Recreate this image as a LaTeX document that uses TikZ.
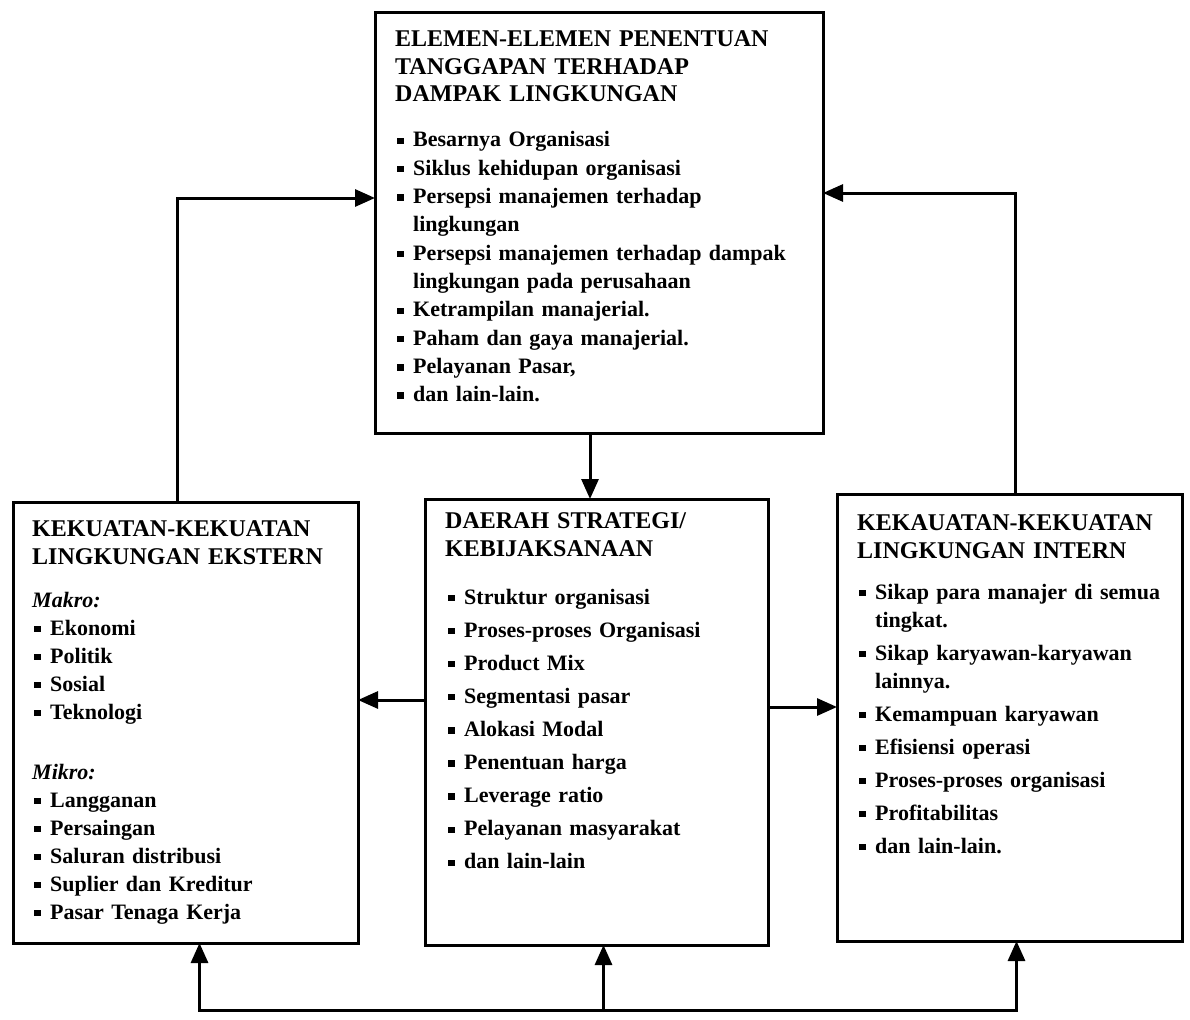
\documentclass[tikz,border=0pt]{standalone}
\usepackage{fontspec}
\setmainfont{Liberation Serif}
\usetikzlibrary{arrows.meta}

% small square bullet and hanging list item (one paragraph per item)
\newlength{\itmind}
\setlength{\itmind}{18pt}
\newcommand{\sqbul}{\raisebox{0.28ex}{\rule{0.29em}{0.29em}}}
\newcommand{\itm}[1]{\noindent\hangindent=\itmind\hangafter=1\makebox[\itmind][l]{\hspace{2pt}\sqbul}#1\par}

\begin{document}
\begin{tikzpicture}[x=1pt,y=-1pt,
  box/.style={draw, line width=3pt, anchor=north west, inner sep=0pt, outer sep=0pt},
  conn/.style={line width=3pt, -{Triangle[length=20pt,width=17pt]}},
  ttl/.style={anchor=base west, inner sep=0pt, align=left, text width=420pt,
    font=\fontsize{24}{28}\selectfont\bfseries},
  lst/.style={anchor=base west, inner sep=0pt, align=left, text width=330pt}
]
\fill[white] (0,0) rectangle (1190,1019);
\useasboundingbox (0,0) rectangle (1190,1019);

% frames
\node[box, minimum width=448pt, minimum height=420pt] (top) at (375,13) {};
\node[box, minimum width=345pt, minimum height=441pt] (ext) at (13,502) {};
\node[box, minimum width=343pt, minimum height=446pt] (mid) at (425,499) {};
\node[box, minimum width=345pt, minimum height=447pt] (int) at (837,494) {};

% top box text
\node[ttl, font=\fontsize{24}{27.5}\selectfont\bfseries] (topT) at (395,47) {ELEMEN-ELEMEN PENENTUAN\\TANGGAPAN TERHADAP\\DAMPAK LINGKUNGAN};
\node[lst, text width=420pt, font=\fontsize{22}{28.3}\selectfont\bfseries] (topL) at (395,147) {%
  \itm{Besarnya Organisasi}%
  \itm{Siklus kehidupan organisasi}%
  \itm{Persepsi manajemen terhadap\newline lingkungan}%
  \itm{Persepsi manajemen terhadap dampak\newline lingkungan pada perusahaan}%
  \itm{Ketrampilan manajerial.}%
  \itm{Paham dan gaya manajerial.}%
  \itm{Pelayanan Pasar,}%
  \itm{dan lain-lain.}};

% external forces
\node[ttl, text width=330pt] (extT) at (32,536) {KEKUATAN-KEKUATAN\\LINGKUNGAN EKSTERN};
\node[lst, font=\fontsize{22}{28}\selectfont\bfseries] (extL) at (32,607) {%
  \noindent\textit{Makro:}\par
  \itm{Ekonomi}%
  \itm{Politik}%
  \itm{Sosial}%
  \itm{Teknologi}%
  \vspace{32pt}\noindent\textit{Mikro:}\par
  \itm{Langganan}%
  \itm{Persaingan}%
  \itm{Saluran distribusi}%
  \itm{Suplier dan Kreditur}%
  \itm{Pasar Tenaga Kerja}};

% strategy / policy area
\node[ttl, text width=320pt] (midT) at (445,528) {DAERAH STRATEGI/\\KEBIJAKSANAAN};
\node[lst, font=\fontsize{22}{33.1}\selectfont\bfseries] (midL) at (446,604) {%
  \itm{Struktur organisasi}%
  \itm{Proses-proses Organisasi}%
  \itm{Product Mix}%
  \itm{Segmentasi pasar}%
  \itm{Alokasi Modal}%
  \itm{Penentuan harga}%
  \itm{Leverage ratio}%
  \itm{Pelayanan masyarakat}%
  \itm{dan lain-lain}};

% internal forces
\node[ttl, text width=320pt] (intT) at (857,530) {KEKAUATAN-KEKUATAN\\LINGKUNGAN INTERN};
\node[lst, font=\fontsize{22}{28}\selectfont\bfseries] (intL) at (857,599) {%
  \setlength{\parskip}{5pt}%
  \itm{Sikap para manajer di semua\newline tingkat.}%
  \itm{Sikap karyawan-karyawan\newline lainnya.}%
  \itm{Kemampuan karyawan}%
  \itm{Efisiensi operasi}%
  \itm{Proses-proses organisasi}%
  \itm{Profitabilitas}%
  \itm{dan lain-lain.}};

% connectors
\coordinate (tD) at ([xshift=-9pt]top.south);
\draw[conn] (tD) -- (tD |- mid.north);

\coordinate (mL) at ([yshift=22pt]mid.west);
\draw[conn] (mL) -- (mL -| ext.east);
\coordinate (mR) at ([yshift=15pt]mid.east);
\draw[conn] (mR) -- (mR -| int.west);

\coordinate (eU) at ([xshift=-8pt]ext.north);
\coordinate (tL) at ([yshift=25pt]top.west);
\draw[conn] (eU) |- (tL);
\coordinate (iU) at ([xshift=6pt]int.north);
\coordinate (tR) at ([yshift=30pt]top.east);
\draw[conn] (iU) |- (tR);

\coordinate (bus) at (0,1010);
\coordinate (eB) at ([xshift=14pt]ext.south);
\coordinate (mB) at ([xshift=7pt]mid.south);
\coordinate (iB) at ([xshift=7pt]int.south);
\draw[line width=3pt, {Triangle[length=20pt,width=17pt]}-{Triangle[length=20pt,width=17pt]}]
  (eB) -- (eB |- bus) -- (iB |- bus) -- (iB);
\draw[conn] (mB |- bus) -- (mB);
\end{tikzpicture}
\end{document}
